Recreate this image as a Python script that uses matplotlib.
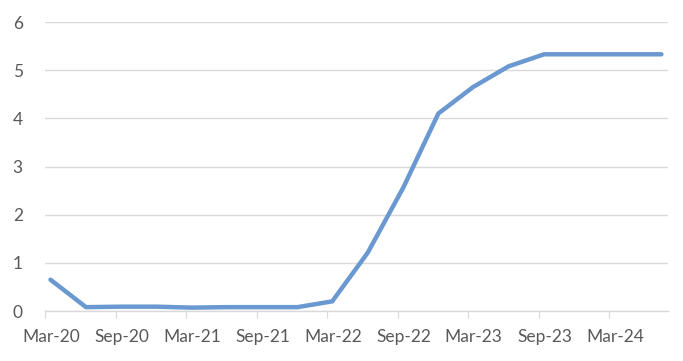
import numpy as np
import pandas as pd
import matplotlib.pyplot as plt
import matplotlib.dates as mdates
from matplotlib.transforms import ScaledTranslation

# quarterly readings, plotted mid-month
dates = ["2020-03-15", "2020-06-15", "2020-09-15", "2020-12-15",
         "2021-03-15", "2021-06-15", "2021-09-15", "2021-12-15",
         "2022-03-15", "2022-06-15", "2022-09-15", "2022-12-15",
         "2023-03-15", "2023-06-15", "2023-09-15", "2023-12-15",
         "2024-03-15", "2024-06-15", "2024-07-15"]
rates = [0.65, 0.08, 0.09, 0.09,
         0.07, 0.08, 0.08, 0.08,
         0.20, 1.21, 2.56, 4.10,
         4.65, 5.08, 5.33, 5.33,
         5.33, 5.33, 5.33]
tick_dates = ["2020-03-01", "2020-09-01", "2021-03-01", "2021-09-01", "2022-03-01",
              "2022-09-01", "2023-03-01", "2023-09-01", "2024-03-01"]
tick_labels = ["Mar-20", "Sep-20", "Mar-21", "Sep-21", "Mar-22",
               "Sep-22", "Mar-23", "Sep-23", "Mar-24"]

plt.rcParams['font.family'] = ['Lato', 'DejaVu Sans']

fig = plt.figure(figsize=(6.83, 3.61), dpi=100)
ax = fig.add_axes([0.066, 0.1385, 0.912, 0.8005])

x = pd.to_datetime(dates)
ax.plot(x, rates, color='#6A98D0', linewidth=3.2, solid_capstyle='round', zorder=3)

ax.set_xlim(pd.Timestamp("2020-03-01"), pd.Timestamp("2024-08-01"))
ax.set_ylim(0, 6)
ax.set_yticks(range(0, 7))
ax.set_xticks(pd.to_datetime(tick_dates))
ax.set_xticklabels(tick_labels)

ax.grid(axis='y', color='#D9D9D9', linewidth=1)
ax.set_axisbelow(True)
for s in ['left', 'right', 'top']:
    ax.spines[s].set_visible(False)
ax.spines['bottom'].set_color('#D9D9D9')
ax.spines['bottom'].set_linewidth(1)

ax.tick_params(axis='y', length=0, pad=16, labelsize=12.5, labelcolor='#595959')
ax.tick_params(axis='x', length=5, color='#D9D9D9', pad=8, labelsize=12.5, labelcolor='#595959')

# labels sit a little right of their ticks
offset = ScaledTranslation(6 / 100, 0, fig.dpi_scale_trans)
for lab in ax.get_xticklabels():
    lab.set_transform(lab.get_transform() + offset)

fig.savefig('out.png', dpi=100)
